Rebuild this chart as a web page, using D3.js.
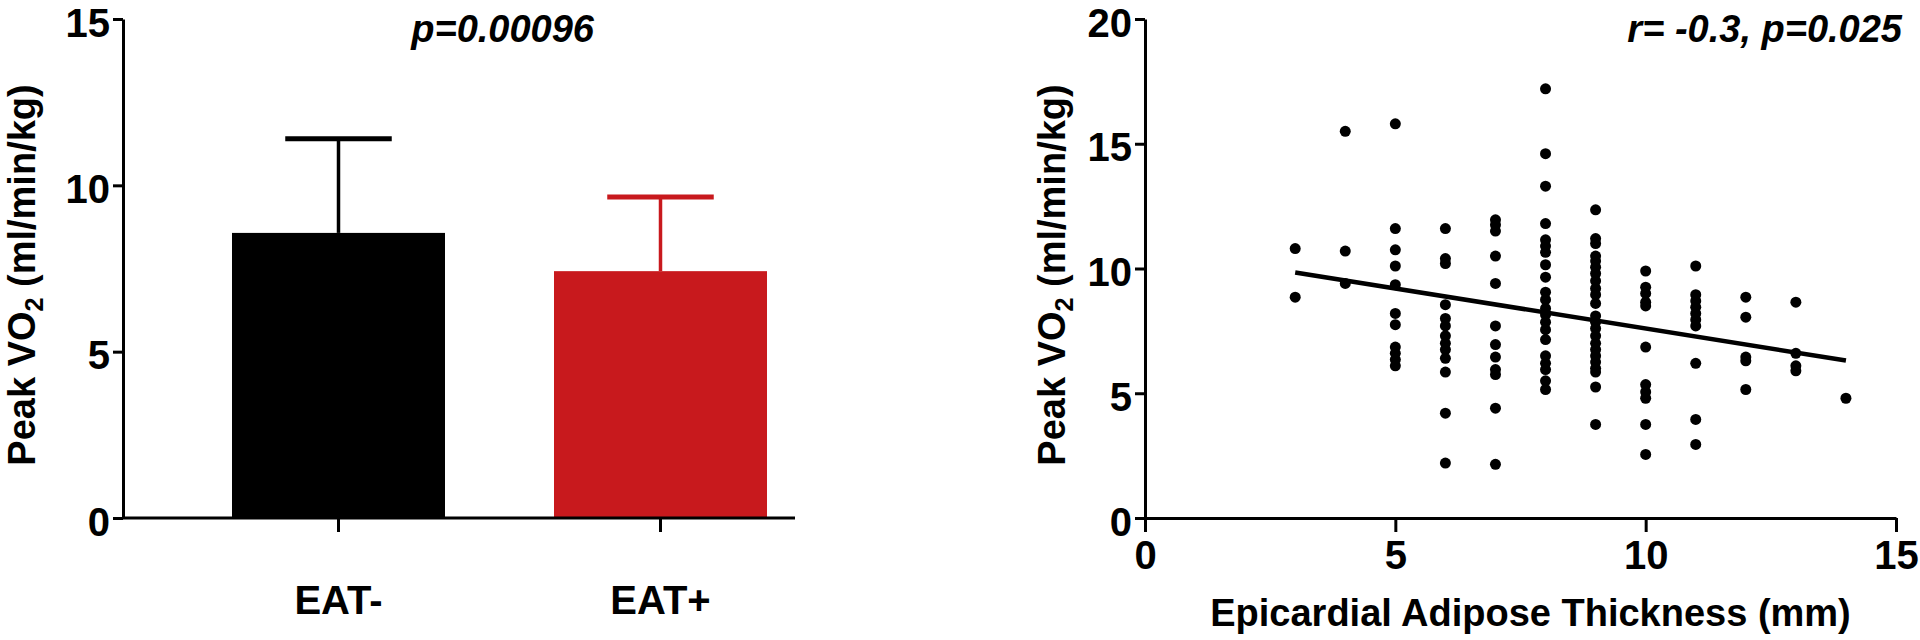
<!DOCTYPE html>
<html>
<head>
<meta charset="utf-8">
<script src="https://cdn.jsdelivr.net/npm/d3@7/dist/d3.min.js"></script>
<style>
  body { margin: 0; background: #fff; }
  svg { display: block; }
  text { font-family: "Liberation Sans", Arial, sans-serif; font-weight: bold; fill: #000; }
</style>
</head>
<body>
<svg id="chart" width="1920" height="640"></svg>
<script>
// ---- bar panel data
const groups = ['EAT-', 'EAT+'];
const groupMeans = [8.57, 7.42];
const groupUpper = [11.4, 9.65]; // mean + SD
const groupColors = ['#000000', '#c8191d'];
const barTicks = [0, 5, 10, 15];
const barNote = 'p=0.00096';

// ---- scatter panel data: thickness (mm) and the peak VO2 values seen at it
const eatMm = [3, 4, 5, 6, 7, 8, 9, 10, 11, 12, 13, 14];
const vo2ByMm = [
  [10.8, 8.85],
  [15.5, 10.7, 9.4],
  [15.8, 11.6, 10.75, 10.1, 9.35, 8.2, 7.75, 6.85, 6.6, 6.35, 6.1],
  [11.6, 10.4, 10.2, 8.55, 8.0, 7.7, 7.3, 7.0, 6.75, 6.4, 5.85, 4.2, 2.2],
  [11.95, 11.75, 11.5, 10.5, 9.4, 7.7, 6.95, 6.45, 5.95, 5.75, 4.4, 2.15],
  [17.2, 14.6, 13.3, 11.8, 11.15, 10.9, 10.65, 10.15, 9.65, 9.05, 8.75, 8.4, 8.15, 7.85, 7.55, 7.15, 6.5, 6.2, 5.95, 5.5, 5.15],
  [12.35, 11.2, 11.0, 10.5, 10.3, 10.05, 9.8, 9.5, 9.2, 8.95, 8.6, 8.1, 7.85, 7.6, 7.3, 7.0, 6.75, 6.5, 6.25, 6.0, 5.85, 5.25, 3.75],
  [9.9, 9.25, 9.0, 8.65, 8.5, 6.85, 5.35, 5.05, 4.8, 3.75, 2.55],
  [10.1, 8.95, 8.7, 8.45, 8.2, 7.95, 7.7, 6.2, 3.95, 2.95],
  [8.85, 8.05, 6.45, 6.3, 5.15],
  [8.65, 6.6, 6.1, 5.9],
  [4.8],
];
const fitX = [3, 14];
const fitY = [9.84, 6.31];
const scatterXTicks = [0, 5, 10, 15];
const scatterYTicks = [0, 5, 10, 15, 20];
const scatterNote = 'r= -0.3, p=0.025';
const xTitle = 'Epicardial Adipose Thickness (mm)';

const svg = d3.select('#chart');
const tickFont = 40;
const titleFont = 38;
const axisWidth = 3;

const styleAxis = (sel) => {
  sel.select('.domain').attr('stroke', '#000').attr('stroke-width', axisWidth);
  sel.selectAll('.tick line').attr('stroke', '#000').attr('stroke-width', axisWidth);
  sel.selectAll('.tick text').attr('font-size', tickFont).attr('fill', '#000');
};

// Rotated y title with the subscript 2
const yTitle = (x, y) => {
  const t = svg.append('text')
    .attr('transform', `translate(${x},${y}) rotate(-90)`)
    .attr('text-anchor', 'middle')
    .attr('font-size', titleFont);
  t.append('tspan').text('Peak VO');
  t.append('tspan').attr('font-size', 25).attr('dy', 8).text('2');
  t.append('tspan').attr('dy', -8).text(' (ml/min/kg)');
};

// ================= bar chart =================
const barLeft = 123;
const yBar = d3.scaleLinear().domain([0, 15]).range([518, 19]);
const xBar = d3.scaleBand().domain(groups).range([barLeft, 876]).padding(0.3385);

svg.append('g')
  .selectAll('rect')
  .data(groups)
  .join('rect')
  .attr('x', (d) => xBar(d))
  .attr('y', (d, i) => yBar(groupMeans[i]))
  .attr('width', xBar.bandwidth())
  .attr('height', (d, i) => yBar(0) - yBar(groupMeans[i]))
  .attr('fill', (d, i) => groupColors[i]);

// error bars (upper only)
const errs = svg.append('g');
groups.forEach((g, i) => {
  const cx = xBar(g) + xBar.bandwidth() / 2;
  const capHalf = xBar.bandwidth() / 4;
  errs.append('line')
    .attr('x1', cx).attr('x2', cx)
    .attr('y1', yBar(groupMeans[i])).attr('y2', yBar(groupUpper[i]))
    .attr('stroke', groupColors[i]).attr('stroke-width', 3.5);
  errs.append('line')
    .attr('x1', cx - capHalf).attr('x2', cx + capHalf)
    .attr('y1', yBar(groupUpper[i])).attr('y2', yBar(groupUpper[i]))
    .attr('stroke', groupColors[i]).attr('stroke-width', 5);
});

const barYAxis = svg.append('g')
  .attr('transform', `translate(${barLeft},0)`)
  .call(d3.axisLeft(yBar).tickValues(barTicks).tickSize(10).tickSizeOuter(0).tickPadding(3));
styleAxis(barYAxis);
barYAxis.selectAll('.tick text').attr('dy', '0.43em');

const barXAxis = svg.append('g')
  .attr('transform', `translate(0,${yBar(0)})`)
  .call(d3.axisBottom(xBar).tickSize(14).tickSizeOuter(0).tickPadding(54));
styleAxis(barXAxis);
barXAxis.select('.domain').remove();
barXAxis.append('line')
  .attr('x1', barLeft).attr('x2', 795)
  .attr('stroke', '#000').attr('stroke-width', axisWidth);

svg.append('text')
  .attr('x', 594).attr('y', 42)
  .attr('text-anchor', 'end')
  .attr('font-size', titleFont)
  .attr('font-style', 'italic')
  .text(barNote);

yTitle(35, 275);

// ================= scatter chart =================
const xSc = d3.scaleLinear().domain([0, 15]).range([1145, 1896]);
const ySc = d3.scaleLinear().domain([0, 20]).range([518, 19]);

const points = eatMm.flatMap((mm, i) => vo2ByMm[i].map((v) => [mm, v]));

svg.append('g')
  .selectAll('circle')
  .data(points)
  .join('circle')
  .attr('cx', (d) => xSc(d[0]))
  .attr('cy', (d) => ySc(d[1]))
  .attr('r', 5.5)
  .attr('fill', '#000');

svg.append('path')
  .datum(fitX.map((x, i) => [x, fitY[i]]))
  .attr('fill', 'none')
  .attr('stroke', '#000')
  .attr('stroke-width', 4.5)
  .attr('d', d3.line().x((d) => xSc(d[0])).y((d) => ySc(d[1])));

const scYAxis = svg.append('g')
  .attr('transform', `translate(${xSc(0)},0)`)
  .call(d3.axisLeft(ySc).tickValues(scatterYTicks).tickSize(10).tickSizeOuter(0).tickPadding(3));
styleAxis(scYAxis);
scYAxis.selectAll('.tick text').attr('dy', '0.43em');

const scXAxis = svg.append('g')
  .attr('transform', `translate(0,${ySc(0)})`)
  .call(d3.axisBottom(xSc).tickValues(scatterXTicks).tickSize(14).tickSizeOuter(0).tickPadding(9));
styleAxis(scXAxis);

svg.append('text')
  .attr('x', 1902).attr('y', 42)
  .attr('text-anchor', 'end')
  .attr('font-size', titleFont)
  .attr('font-style', 'italic')
  .text(scatterNote);

svg.append('text')
  .attr('x', (xSc.range()[0] + xSc.range()[1]) / 2 + 10)
  .attr('y', 626)
  .attr('text-anchor', 'middle')
  .attr('font-size', titleFont)
  .text(xTitle);

yTitle(1065, 275);
</script>
</body>
</html>
